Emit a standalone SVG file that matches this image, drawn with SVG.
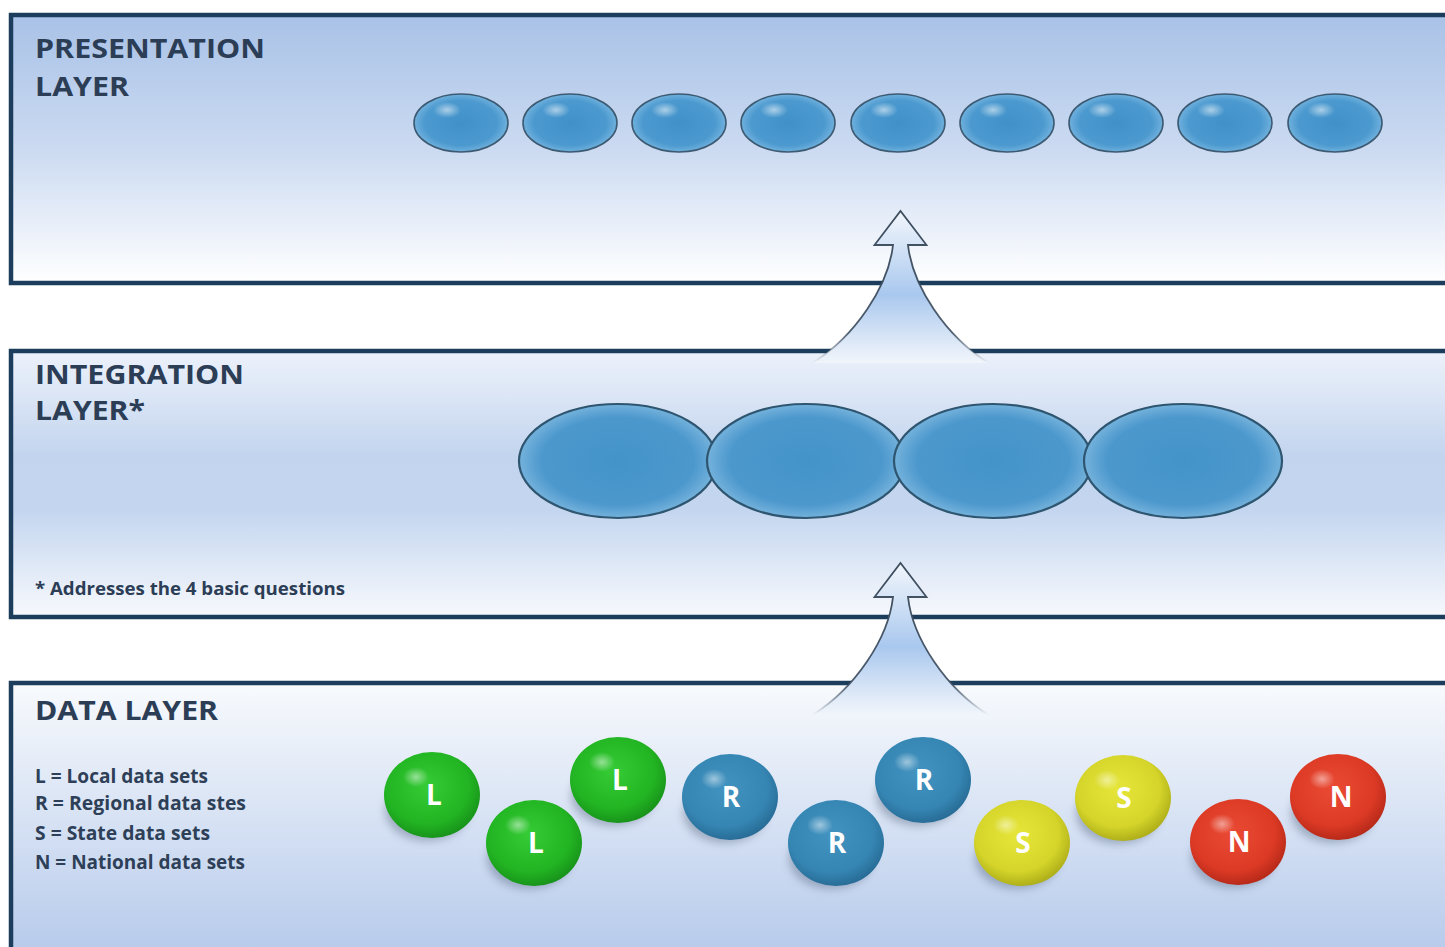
<svg xmlns="http://www.w3.org/2000/svg" xmlns:xlink="http://www.w3.org/1999/xlink" width="1445" height="947" viewBox="0 0 1445 947">
  <defs>
    <style>
      .panel { stroke: #1c3d5c; stroke-width: 4.5; }
      .title { font-family: "Open Sans", "Liberation Sans", sans-serif; font-weight: 700; font-size: 26px; fill: #2c3d56; }
      .note { font-family: "Open Sans", "Liberation Sans", sans-serif; font-weight: 700; font-size: 18px; fill: #2c3d56; }
      .legend { font-family: "Open Sans", "Liberation Sans", sans-serif; font-weight: 700; font-size: 19px; fill: #2e3f58; }
      .pres { fill: url(#gradPres); stroke: #3c5a72; stroke-width: 1.6; }
      .integ { fill: url(#gradInteg); }
      .integ-line { fill: none; stroke: #2f5670; stroke-width: 2.2; }
      .shine { fill: url(#gradShine); }
      .ball-shine { fill: url(#gradShine); opacity: 0.9; }
      .ball-label { font-family: "Open Sans", "Liberation Sans", sans-serif; font-weight: 700; font-size: 28px; fill: #ffffff; text-anchor: middle; }
      .shadow { fill: #4c5c74; opacity: 0.4; filter: url(#blur); }
      .arrow-fill { fill: url(#gradArrow); }
      .arrow-line { fill: none; stroke: url(#gradArrowLine); stroke-width: 1.8; stroke-linejoin: miter; }
    </style>

    <!-- layer backgrounds -->
    <linearGradient id="gradTop" x1="0" y1="0" x2="0" y2="1">
      <stop offset="0" stop-color="#a9c2e7"/>
      <stop offset="0.5" stop-color="#cbdaf1"/>
      <stop offset="1" stop-color="#ffffff"/>
    </linearGradient>
    <linearGradient id="gradMid" x1="0" y1="0" x2="0" y2="1">
      <stop offset="0" stop-color="#edf2fb"/>
      <stop offset="0.4" stop-color="#c2d4ee"/>
      <stop offset="0.6" stop-color="#c4d6ef"/>
      <stop offset="1" stop-color="#f7f9fd"/>
    </linearGradient>
    <linearGradient id="gradBot" x1="0" y1="0" x2="0" y2="1">
      <stop offset="0" stop-color="#f8fafd"/>
      <stop offset="1" stop-color="#afc5e9"/>
    </linearGradient>

    <!-- bubbles -->
    <radialGradient id="gradPres" cx="0.5" cy="0.5" r="0.55">
      <stop offset="0" stop-color="#4191c9"/>
      <stop offset="0.7" stop-color="#4b99cf"/>
      <stop offset="1" stop-color="#80bbe3"/>
    </radialGradient>
    <radialGradient id="gradInteg" cx="0.5" cy="0.5" r="0.55">
      <stop offset="0" stop-color="#4393c9"/>
      <stop offset="0.7" stop-color="#4c98cd"/>
      <stop offset="1" stop-color="#86bde2"/>
    </radialGradient>
    <radialGradient id="gradShine" cx="0.5" cy="0.5" r="0.5">
      <stop offset="0" stop-color="#ffffff" stop-opacity="0.55"/>
      <stop offset="1" stop-color="#ffffff" stop-opacity="0"/>
    </radialGradient>

    <!-- data spheres -->
    <radialGradient id="gradGreen" cx="0.45" cy="0.4" r="0.62">
      <stop offset="0" stop-color="#36cc36"/>
      <stop offset="0.7" stop-color="#22b422"/>
      <stop offset="1" stop-color="#17901a"/>
    </radialGradient>
    <radialGradient id="gradBlue" cx="0.45" cy="0.4" r="0.62">
      <stop offset="0" stop-color="#4393c0"/>
      <stop offset="0.7" stop-color="#3686b4"/>
      <stop offset="1" stop-color="#266a94"/>
    </radialGradient>
    <radialGradient id="gradYellow" cx="0.45" cy="0.4" r="0.62">
      <stop offset="0" stop-color="#e6e63a"/>
      <stop offset="0.7" stop-color="#d4d42a"/>
      <stop offset="1" stop-color="#abab18"/>
    </radialGradient>
    <radialGradient id="gradRed" cx="0.45" cy="0.4" r="0.62">
      <stop offset="0" stop-color="#ea4a33"/>
      <stop offset="0.7" stop-color="#dc3a25"/>
      <stop offset="1" stop-color="#b42818"/>
    </radialGradient>

    <!-- upward arrows -->
    <linearGradient id="gradArrow" x1="0" y1="0" x2="0" y2="1">
      <stop offset="0" stop-color="#f2f6fc"/>
      <stop offset="0.25" stop-color="#d2e2f6"/>
      <stop offset="0.55" stop-color="#a9c8ee"/>
      <stop offset="0.85" stop-color="#dbe7f7"/>
      <stop offset="1" stop-color="#f1f5fb"/>
    </linearGradient>
    <linearGradient id="gradArrowLine" x1="0" y1="0" x2="0" y2="1">
      <stop offset="0" stop-color="#3d4d5e" stop-opacity="1"/>
      <stop offset="0.8" stop-color="#3d4d5e" stop-opacity="0.9"/>
      <stop offset="1" stop-color="#3d4d5e" stop-opacity="0"/>
    </linearGradient>
    <path id="arrowShape" d="M 0 0 L 26 34 L 7.5 34 C 12 75, 45 125, 88 152 L -88 152 C -45 125, -12 75, -7.5 34 L -26 34 Z"/>
    <path id="arrowOutline" d="M -88 152 C -45 125, -12 75, -7.5 34 L -26 34 L 0 0 L 26 34 L 7.5 34 C 12 75, 45 125, 88 152"/>

    <filter id="blur" x="-30%" y="-30%" width="160%" height="160%">
      <feGaussianBlur stdDeviation="4"/>
    </filter>

    <!-- sphere body -->
    <ellipse id="sphere" cx="0" cy="0" rx="48" ry="43"/>
  </defs>

  <!-- ============ LAYER PANELS ============ -->
  <g id="presentation-layer">
    <rect class="panel" x="11" y="15" width="1450" height="268" fill="url(#gradTop)"/>
    <text class="title" x="35" y="58" textLength="230" lengthAdjust="spacingAndGlyphs">PRESENTATION</text>
    <text class="title" x="35" y="96" textLength="94" lengthAdjust="spacingAndGlyphs">LAYER</text>
  </g>

  <g id="integration-layer">
    <rect class="panel" x="11" y="351" width="1450" height="266" fill="url(#gradMid)"/>
    <text class="title" x="35" y="384" textLength="209" lengthAdjust="spacingAndGlyphs">INTEGRATION</text>
    <text class="title" x="35" y="420" textLength="110" lengthAdjust="spacingAndGlyphs">LAYER*</text>
    <text class="note" x="35" y="595" textLength="310" lengthAdjust="spacingAndGlyphs">* Addresses the 4 basic questions</text>
  </g>

  <g id="data-layer">
    <rect class="panel" x="11" y="683" width="1450" height="300" fill="url(#gradBot)"/>
    <text class="title" x="35" y="720" textLength="183" lengthAdjust="spacingAndGlyphs">DATA LAYER</text>
    <g id="legend">
      <text class="legend" x="35" y="783" textLength="173" lengthAdjust="spacingAndGlyphs">L = Local data sets</text>
      <text class="legend" x="35" y="810" textLength="211" lengthAdjust="spacingAndGlyphs">R = Regional data stes</text>
      <text class="legend" x="35" y="840" textLength="175" lengthAdjust="spacingAndGlyphs">S = State data sets</text>
      <text class="legend" x="35" y="869" textLength="210" lengthAdjust="spacingAndGlyphs">N = National data sets</text>
    </g>
  </g>

  <!-- ============ PRESENTATION BUBBLES ============ -->
  <g id="pres-1"><ellipse class="pres" cx="461" cy="123" rx="47" ry="29"/><ellipse class="shine" cx="447" cy="110" rx="14" ry="8"/></g>
  <g id="pres-2"><ellipse class="pres" cx="570" cy="123" rx="47" ry="29"/><ellipse class="shine" cx="556" cy="110" rx="14" ry="8"/></g>
  <g id="pres-3"><ellipse class="pres" cx="679" cy="123" rx="47" ry="29"/><ellipse class="shine" cx="665" cy="110" rx="14" ry="8"/></g>
  <g id="pres-4"><ellipse class="pres" cx="788" cy="123" rx="47" ry="29"/><ellipse class="shine" cx="774" cy="110" rx="14" ry="8"/></g>
  <g id="pres-5"><ellipse class="pres" cx="898" cy="123" rx="47" ry="29"/><ellipse class="shine" cx="884" cy="110" rx="14" ry="8"/></g>
  <g id="pres-6"><ellipse class="pres" cx="1007" cy="123" rx="47" ry="29"/><ellipse class="shine" cx="993" cy="110" rx="14" ry="8"/></g>
  <g id="pres-7"><ellipse class="pres" cx="1116" cy="123" rx="47" ry="29"/><ellipse class="shine" cx="1102" cy="110" rx="14" ry="8"/></g>
  <g id="pres-8"><ellipse class="pres" cx="1225" cy="123" rx="47" ry="29"/><ellipse class="shine" cx="1211" cy="110" rx="14" ry="8"/></g>
  <g id="pres-9"><ellipse class="pres" cx="1335" cy="123" rx="47" ry="29"/><ellipse class="shine" cx="1321" cy="110" rx="14" ry="8"/></g>

  <!-- ============ INTEGRATION BUBBLES ============ -->
  <g id="integ-1"><ellipse id="integ-1-shape" class="integ" cx="618" cy="461" rx="99" ry="57"/><ellipse class="shine" cx="585" cy="433" rx="26" ry="14"/></g>
  <g id="integ-2"><ellipse id="integ-2-shape" class="integ" cx="806" cy="461" rx="99" ry="57"/><ellipse class="shine" cx="773" cy="433" rx="26" ry="14"/></g>
  <g id="integ-3"><ellipse id="integ-3-shape" class="integ" cx="993" cy="461" rx="99" ry="57"/><ellipse class="shine" cx="960" cy="433" rx="26" ry="14"/></g>
  <g id="integ-4"><ellipse id="integ-4-shape" class="integ" cx="1183" cy="461" rx="99" ry="57"/><ellipse class="shine" cx="1150" cy="433" rx="26" ry="14"/></g>
  <!-- outlines drawn last so the overlapping arcs stay visible -->
  <g id="integ-outlines">
    <use xlink:href="#integ-1-shape" href="#integ-1-shape" class="integ-line"/>
    <use xlink:href="#integ-2-shape" href="#integ-2-shape" class="integ-line"/>
    <use xlink:href="#integ-3-shape" href="#integ-3-shape" class="integ-line"/>
    <use xlink:href="#integ-4-shape" href="#integ-4-shape" class="integ-line"/>
  </g>

  <!-- ============ DATA SPHERES ============ -->
  <g id="ball-L1" transform="translate(432,795)">
    <ellipse class="shadow" cx="-5" cy="16" rx="42" ry="30"/>
    <use xlink:href="#sphere" href="#sphere" fill="url(#gradGreen)"/>
    <ellipse class="ball-shine" cx="-16" cy="-18" rx="13" ry="10"/>
    <text class="ball-label" x="2" y="10">L</text>
  </g>
  <g id="ball-L2" transform="translate(534,843)">
    <ellipse class="shadow" cx="-5" cy="16" rx="42" ry="30"/>
    <use xlink:href="#sphere" href="#sphere" fill="url(#gradGreen)"/>
    <ellipse class="ball-shine" cx="-16" cy="-18" rx="13" ry="10"/>
    <text class="ball-label" x="2" y="10">L</text>
  </g>
  <g id="ball-L3" transform="translate(618,780)">
    <ellipse class="shadow" cx="-5" cy="16" rx="42" ry="30"/>
    <use xlink:href="#sphere" href="#sphere" fill="url(#gradGreen)"/>
    <ellipse class="ball-shine" cx="-16" cy="-18" rx="13" ry="10"/>
    <text class="ball-label" x="2" y="10">L</text>
  </g>
  <g id="ball-R1" transform="translate(730,797)">
    <ellipse class="shadow" cx="-5" cy="16" rx="42" ry="30"/>
    <use xlink:href="#sphere" href="#sphere" fill="url(#gradBlue)"/>
    <ellipse class="ball-shine" cx="-16" cy="-18" rx="13" ry="10"/>
    <text class="ball-label" x="1" y="10">R</text>
  </g>
  <g id="ball-R2" transform="translate(836,843)">
    <ellipse class="shadow" cx="-5" cy="16" rx="42" ry="30"/>
    <use xlink:href="#sphere" href="#sphere" fill="url(#gradBlue)"/>
    <ellipse class="ball-shine" cx="-16" cy="-18" rx="13" ry="10"/>
    <text class="ball-label" x="1" y="10">R</text>
  </g>
  <g id="ball-R3" transform="translate(923,780)">
    <ellipse class="shadow" cx="-5" cy="16" rx="42" ry="30"/>
    <use xlink:href="#sphere" href="#sphere" fill="url(#gradBlue)"/>
    <ellipse class="ball-shine" cx="-16" cy="-18" rx="13" ry="10"/>
    <text class="ball-label" x="1" y="10">R</text>
  </g>
  <g id="ball-S1" transform="translate(1022,843)">
    <ellipse class="shadow" cx="-5" cy="16" rx="42" ry="30"/>
    <use xlink:href="#sphere" href="#sphere" fill="url(#gradYellow)"/>
    <ellipse class="ball-shine" cx="-16" cy="-18" rx="13" ry="10"/>
    <text class="ball-label" x="1" y="10">S</text>
  </g>
  <g id="ball-S2" transform="translate(1123,798)">
    <ellipse class="shadow" cx="-5" cy="16" rx="42" ry="30"/>
    <use xlink:href="#sphere" href="#sphere" fill="url(#gradYellow)"/>
    <ellipse class="ball-shine" cx="-16" cy="-18" rx="13" ry="10"/>
    <text class="ball-label" x="1" y="10">S</text>
  </g>
  <g id="ball-N1" transform="translate(1238,842)">
    <ellipse class="shadow" cx="-5" cy="16" rx="42" ry="30"/>
    <use xlink:href="#sphere" href="#sphere" fill="url(#gradRed)"/>
    <ellipse class="ball-shine" cx="-16" cy="-18" rx="13" ry="10"/>
    <text class="ball-label" x="1" y="10">N</text>
  </g>
  <g id="ball-N2" transform="translate(1338,797)">
    <ellipse class="shadow" cx="-5" cy="16" rx="42" ry="30"/>
    <use xlink:href="#sphere" href="#sphere" fill="url(#gradRed)"/>
    <ellipse class="ball-shine" cx="-16" cy="-18" rx="13" ry="10"/>
    <text class="ball-label" x="3" y="10">N</text>
  </g>

  <!-- ============ CONNECTORS (upward flow arrows) ============ -->
  <g id="connectors">
    <g id="arrow-integration-to-presentation" transform="translate(900.5,211)">
      <use xlink:href="#arrowShape" href="#arrowShape" class="arrow-fill"/>
      <use xlink:href="#arrowOutline" href="#arrowOutline" class="arrow-line"/>
    </g>
    <g id="arrow-data-to-integration" transform="translate(900.5,563)">
      <use xlink:href="#arrowShape" href="#arrowShape" class="arrow-fill"/>
      <use xlink:href="#arrowOutline" href="#arrowOutline" class="arrow-line"/>
    </g>
  </g>
</svg>
